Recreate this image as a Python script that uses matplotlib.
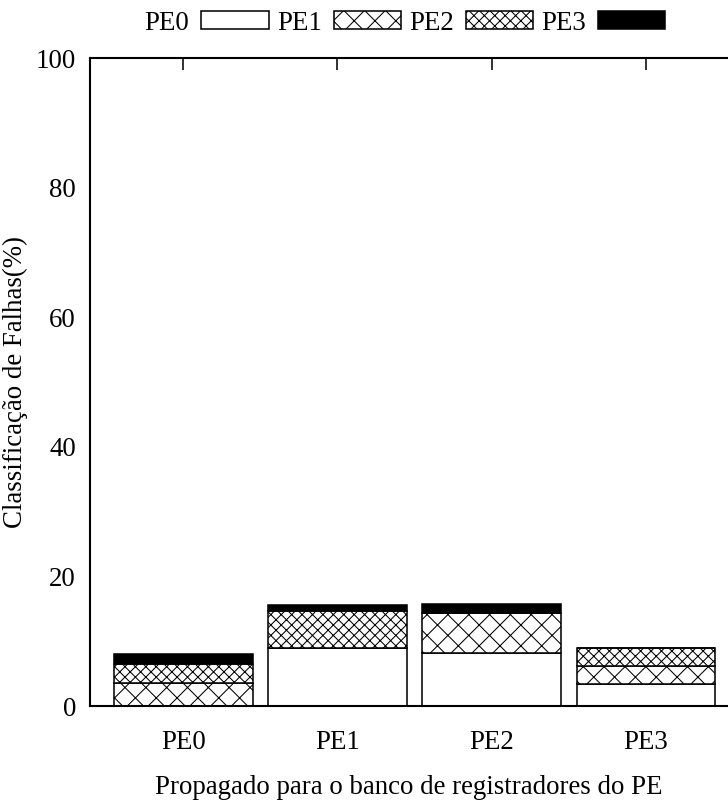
import matplotlib
matplotlib.use("Agg")
import matplotlib.pyplot as plt
from matplotlib.patches import Patch
import numpy as np

plt.rcParams['font.family'] = ['Liberation Serif', 'DejaVu Serif']
plt.rcParams['hatch.linewidth'] = 0.6

grupos = ['PE0', 'PE1', 'PE2', 'PE3']
# contribution of each source PE (stacked bottom -> top)
pe0 = [0.0, 8.9, 8.2, 3.4]
pe1 = [3.5, 0.0, 6.2, 2.8]
pe2 = [3.0, 5.8, 0.0, 2.8]
pe3 = [1.5, 0.9, 1.3, 0.0]
series = [pe0, pe1, pe2, pe3]
nomes = ['PE0', 'PE1', 'PE2', 'PE3']
estilos = [dict(facecolor='white', hatch=None),
           dict(facecolor='white', hatch='xx'),
           dict(facecolor='white', hatch='xxxx'),
           dict(facecolor='black', hatch=None)]

DPI = 125
FS = 15.5
fig = plt.figure(figsize=(728 / DPI, 803 / DPI), dpi=DPI)
ax = fig.add_axes([90 / 728, 1 - 706 / 803, 638 / 728, 648 / 803])

x = np.arange(len(grupos))
base = np.zeros(len(grupos))
for vals, st in zip(series, estilos):
    ax.bar(x, vals, width=0.9, bottom=base, edgecolor='black', linewidth=0.9, **st)
    base += np.array(vals)

ax.set_xlim(-0.604, 3.532)
ax.set_ylim(0, 100)
ax.set_yticks([0, 20, 40, 60, 80, 100])
ax.set_xticks(x)
ax.set_xticklabels(grupos)
ax.tick_params(axis='y', length=0, pad=8, labelsize=FS)
ax.tick_params(axis='x', bottom=False, top=True, direction='in', length=7,
               width=0.9, pad=14, labelsize=FS)
for s in ['left', 'bottom', 'top']:
    ax.spines[s].set_linewidth(1.2)
ax.spines['right'].set_visible(False)

ax.set_ylabel('Classificação de Falhas(%)', fontsize=FS)
ax.yaxis.set_label_coords(-0.097, 0.5)
ax.set_xlabel('Propagado para o banco de registradores do PE', fontsize=FS)
ax.xaxis.set_label_coords(0.5, (706 - 788) / 648)
ax.xaxis.label.set_va('center')

handles = [Patch(edgecolor='black', linewidth=0.9, **st) for st in estilos]
fig.legend(handles, nomes, loc='center', bbox_to_anchor=(405 / 728, 1 - 23 / 803),
           ncol=4, frameon=False, markerfirst=False, fontsize=FS,
           handlelength=2.5, handleheight=0.6, handletextpad=0.45,
           columnspacing=0.3)

fig.savefig('out.png', dpi=DPI)
